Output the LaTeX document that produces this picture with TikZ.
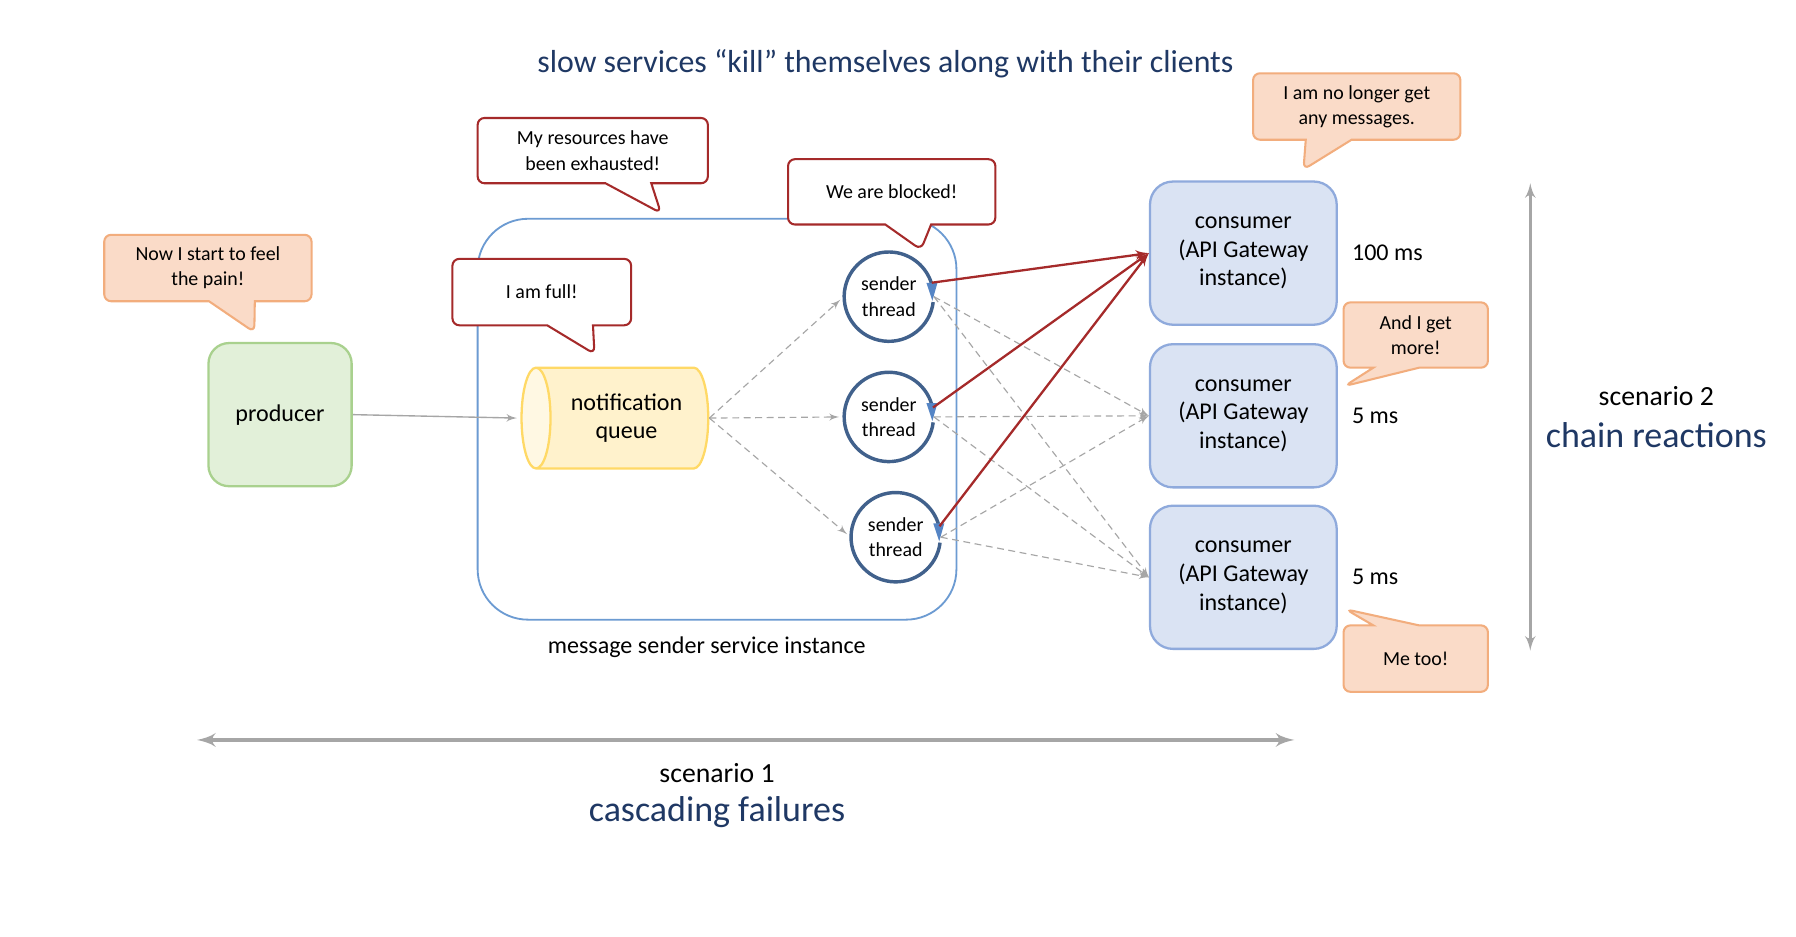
\documentclass[tikz,border=0pt]{standalone}
\usepackage{fontspec}
\setmainfont{Carlito}
\usepackage{xcolor}
\usepackage{tikz}
\usetikzlibrary{shapes.geometric, shapes.callouts, arrows, positioning, calc}

\definecolor{navy}{HTML}{1F3864}
\definecolor{moanfill}{HTML}{FADBC8}
\definecolor{moandraw}{HTML}{F2AD7D}
\definecolor{alarm}{HTML}{A52A2A}
\definecolor{prodfill}{HTML}{E2F0D9}
\definecolor{proddraw}{HTML}{A9D18E}
\definecolor{queuefill}{HTML}{FFF2CC}
\definecolor{queueend}{HTML}{FFF8E3}
\definecolor{queuedraw}{HTML}{FFD966}
\definecolor{consfill}{HTML}{DAE3F3}
\definecolor{consdraw}{HTML}{8FAADC}
\definecolor{svcdraw}{HTML}{6C9BD2}
\definecolor{ringdraw}{HTML}{41618C}
\definecolor{ringtip}{HTML}{5585C5}
\definecolor{flowgray}{HTML}{A6A6A6}

\newcommand{\talkfont}{\fontsize{8.7}{11}\selectfont}
\newcommand{\bodyfont}{\fontsize{10.5}{12.5}\selectfont}

\begin{document}
\begin{tikzpicture}[x=0.5pt, y=-0.5pt,
    box/.style={rectangle, draw, line width=1pt, text centered, align=center, font=\bodyfont, rounded corners=9pt},
    consumer/.style={box, fill=consfill, draw=consdraw, minimum width=81.5pt, minimum height=62.5pt, rounded corners=10pt},
    queue/.style={cylinder, shape border rotate=180, aspect=0.45, draw=queuedraw, line width=1pt, cylinder uses custom fill, cylinder body fill=queuefill, cylinder end fill=queueend, minimum height=81.5pt, minimum width=44pt, align=center, font=\bodyfont},
    svc/.style={rectangle, draw=svcdraw, line width=0.8pt, rounded corners=22pt, minimum width=209pt, minimum height=175pt},
    worker/.style={circle, minimum size=39pt, inner sep=0pt, align=center, font=\talkfont},
    ring/.style={draw=ringdraw, line width=1.5pt},
    talk/.style={rectangle callout, draw, line width=0.9pt, align=center, font=\talkfont, rounded corners=3pt, callout pointer width=20pt, inner sep=0pt},
    moan/.style={talk, fill=moanfill, draw=moandraw},
    alert/.style={talk, fill=white, draw=alarm},
    flow/.style={draw=flowgray, dash pattern=on 3pt off 2pt, line width=0.5pt, -latex'},
    jam/.style={draw=alarm, line width=1pt, -latex'},
    span/.style={draw=flowgray, latex'-latex'},
    tag/.style={inner sep=0pt, font=\bodyfont}]

    \path[use as bounding box, fill=white] (0,0) rectangle (1568,817.2);

    % Title
    \node[font=\fontsize{13.9}{16}\selectfont, text=navy] (title) at (773,56) {slow services “kill” themselves along with their clients};

    % Service instance
    \node[svc] (svc) at (626,366) {};
    \node[tag] (svclabel) at (617,565) {message sender service instance};

    % Nodes
    \node[box, fill=prodfill, draw=proddraw, minimum width=62.5pt, minimum height=62.5pt] (producer) at (244.5,362) {producer};
    \node[queue] (queue) at (547,365) {notification\\queue};

    \foreach \n/\px/\py in {t1/776/259, t2/776/364, t3/782/469} {
        \node[worker] (\n) at (\px,\py) {sender\\thread};
        \draw[ring] (\n.center) ++(-7:19.5pt) arc[start angle=-7, end angle=-343, radius=19.5pt];
        \fill[ringtip] (\n.east) ++(-3.3pt,6pt) -- ++(4.8pt,0pt) -- ++(-2.2pt,-7.8pt) -- cycle;
    }

    \node[consumer] (c1) at (1085.5,221) {consumer\\(API Gateway\\instance)};
    \node[consumer, below=7.5pt of c1] (c2) {consumer\\(API Gateway\\instance)};
    \node[consumer, below=7pt of c2] (c3) {consumer\\(API Gateway\\instance)};

    \node[tag, right=6pt of c1] (d1) {100 ms};
    \node[tag, right=6pt of c2] (d2) {5 ms};
    \node[tag, right=6pt of c3] (d3) {5 ms};

    % Paths
    \path[draw=flowgray, line width=0.6pt, -latex'] (producer.east) -- ([xshift=-1.5pt]queue.west);
    \foreach \t in {t1,t2,t3} {
        \path[flow, shorten >=2pt] (queue.east) -- (\t.west);
        \path[flow] (\t.east) -- (c2.west);
        \path[flow] (\t.east) -- (c3.west);
    }
    \foreach \t/\a in {t1/18, t2/12, t3/14} {
        \path[jam] (\t.\a) -- (c1.west);
    }

    % Speech bubbles
    \node[moan, minimum width=90.5pt, minimum height=29pt, callout absolute pointer={(222,290)}] (pain) at (181.5,234) {Now I start to feel\\the pain!};
    \node[alert, minimum width=100.5pt, minimum height=28.5pt, callout absolute pointer={(577,186)}] (exhausted) at (517.5,131.5) {My resources have\\been exhausted!};
    \node[alert, minimum width=78pt, minimum height=29pt, callout absolute pointer={(519,309)}] (full) at (473,255) {I am full!};
    \node[alert, minimum width=90.5pt, minimum height=28.5pt, callout absolute pointer={(804,218)}] (blocked) at (778.5,167.5) {We are blocked!};
    \node[moan, minimum width=90.5pt, minimum height=29pt, callout absolute pointer={(1138,148)}] (nomsg) at (1184.5,93) {I am no longer get\\any messages.};
    \node[moan, minimum width=63pt, minimum height=28.5pt, callout absolute pointer={(1174,337)}] (more) at (1236,292.5) {And I get\\more!};
    \node[moan, minimum width=63pt, minimum height=29pt, callout absolute pointer={(1175,532)}] (metoo) at (1236,575) {Me too!};

    % Scenarios
    \coordinate (s1a) at (172,646);
    \coordinate (s1b) at (1130,646);
    \path[span, line width=1.8pt] (s1a) -- (s1b);
    \node[font=\fontsize{12.1}{14}\selectfont] (sc1) at (626,675) {scenario 1};
    \node[font=\fontsize{15.7}{18}\selectfont, text=navy] (cascade) at (626,709) {cascading failures};

    \coordinate (s2a) at (1336,160);
    \coordinate (s2b) at (1336,568);
    \path[span, line width=1.2pt] (s2a) -- (s2b);
    \node[font=\fontsize{12.1}{14}\selectfont] (sc2) at (1446,346) {scenario 2};
    \node[font=\fontsize{15.7}{18}\selectfont, text=navy] (chain) at (1446,380) {chain reactions};

\end{tikzpicture}
\end{document}
